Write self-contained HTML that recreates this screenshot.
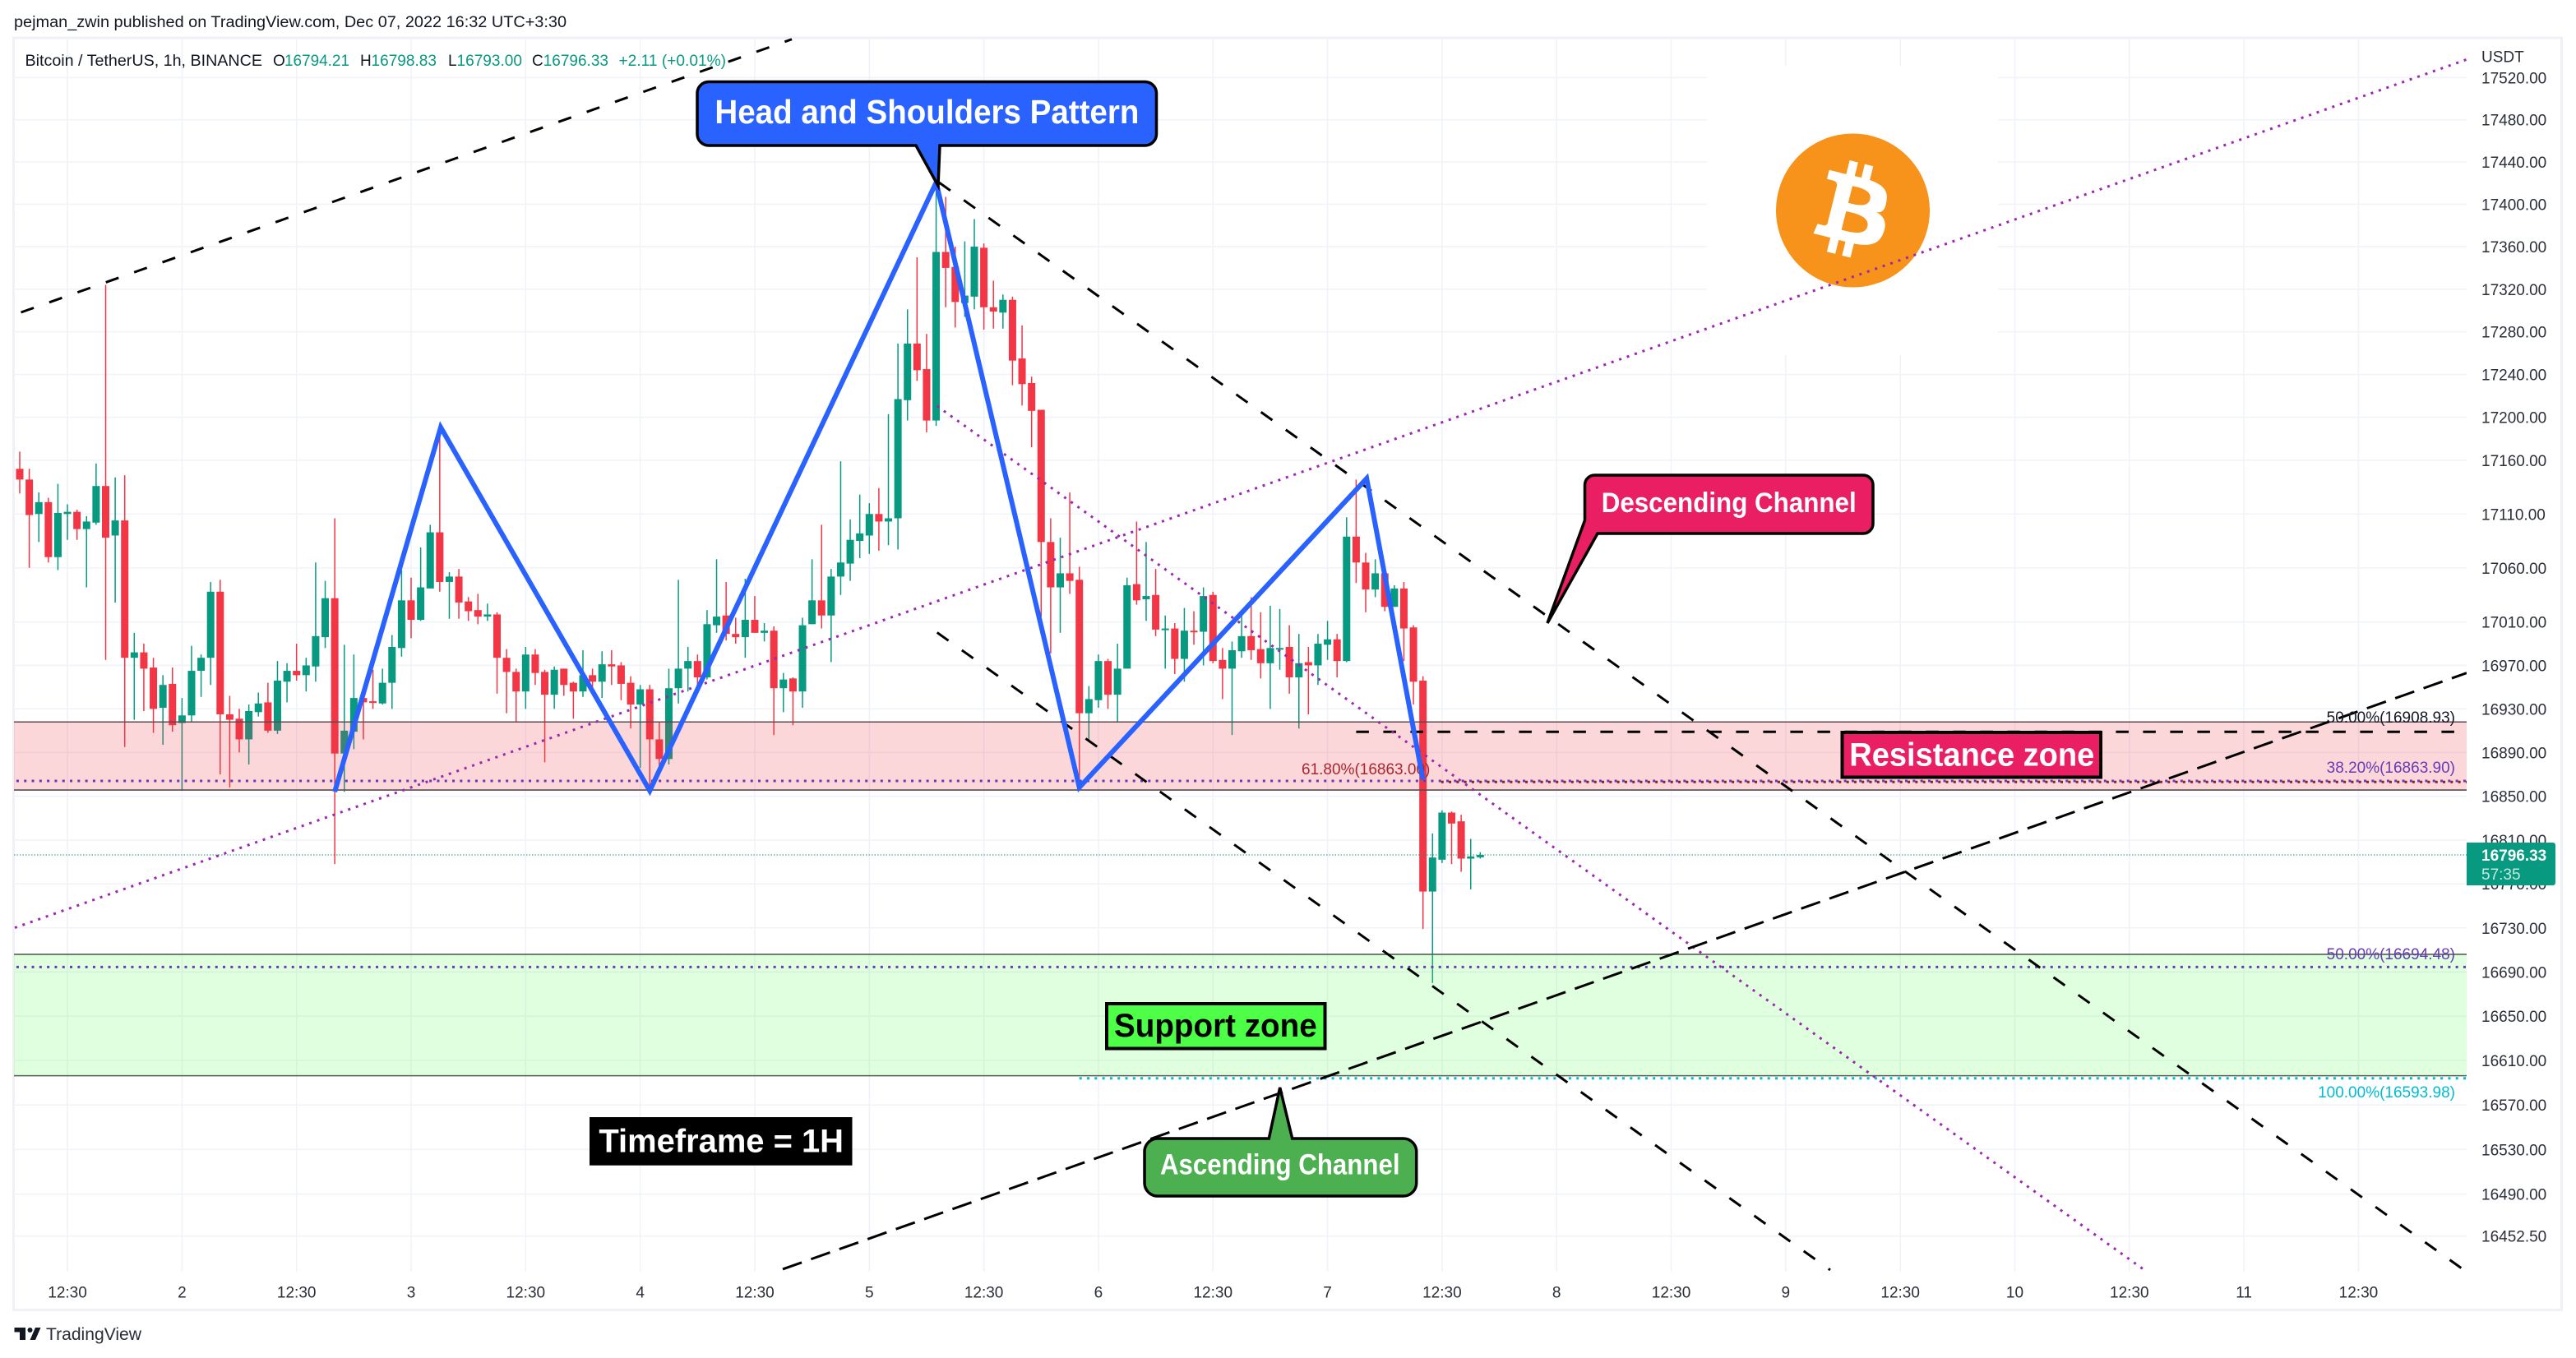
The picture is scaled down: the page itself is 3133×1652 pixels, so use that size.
<!DOCTYPE html>
<html lang="en">
<head>
<meta charset="utf-8">
<title>BTC/USDT 1H Head and Shoulders chart</title>
<style>
html,body{margin:0;padding:0;background:#fff;width:3133px;height:1652px;overflow:hidden}
svg{display:block}
text{font-family:"Liberation Sans",sans-serif}
.tick{font-size:19px;fill:#2a2e39}
.legend{font-size:19px;fill:#131722}
.val{font-size:19px;fill:#089981}
.fib{font-size:19px}
.call{font-weight:700}
</style>
</head>
<body>
<svg id="chart" xmlns="http://www.w3.org/2000/svg" width="3133" height="1652" viewBox="0 0 3133 1652">
<defs><clipPath id="plotClip"><rect x="17" y="46" width="2983" height="1501"/></clipPath></defs>
<rect x="0" y="0" width="3133" height="1652" fill="#ffffff"/>
<text class="legend" x="17" y="33" textLength="672" lengthAdjust="spacingAndGlyphs">pejman_zwin published on TradingView.com, Dec 07, 2022 16:32 UTC+3:30</text>
<rect x="16.5" y="46" width="3099" height="1547.5" fill="none" stroke="#eff1f6" stroke-width="3"/>

<g id="gridLayer"></g>
<rect x="2076" y="80" width="354" height="352" fill="#ffffff"/>
<g>
<circle cx="2253.5" cy="256" r="93.5" fill="#f7931a"/>
<path transform="translate(2160,162.5) scale(2.92)" fill="#ffffff" d="M46.11,27.441c0.637-4.258-2.605-6.547-7.038-8.074l1.438-5.768l-3.511-0.875l-1.4,5.616c-0.923-0.23-1.871-0.447-2.813-0.662l1.41-5.653l-3.509-0.875l-1.439,5.766c-0.764-0.174-1.514-0.346-2.242-0.527l0.004-0.018l-4.842-1.209l-0.934,3.75c0,0,2.605,0.597,2.55,0.634c1.422,0.355,1.679,1.296,1.636,2.042l-1.638,6.571c0.098,0.025,0.225,0.061,0.365,0.117c-0.117-0.029-0.242-0.061-0.371-0.092l-2.296,9.205c-0.174,0.432-0.615,1.08-1.609,0.834c0.035,0.051-2.552-0.637-2.552-0.637l-1.743,4.019l4.569,1.139c0.85,0.213,1.683,0.436,2.503,0.646l-1.453,5.834l3.507,0.875l1.439-5.772c0.958,0.26,1.888,0.5,2.798,0.726l-1.434,5.745l3.511,0.875l1.453-5.823c5.987,1.133,10.489,0.676,12.384-4.739c1.527-4.36-0.076-6.875-3.226-8.515C44.01,33.383,45.69,31.93,46.11,27.441L46.11,27.441z M38.087,38.69c-1.085,4.36-8.426,2.003-10.806,1.412l1.928-7.729C31.589,32.966,39.221,34.14,38.087,38.69L38.087,38.69z M39.173,27.378c-0.99,3.966-7.1,1.951-9.082,1.457l1.748-7.01C33.821,22.319,40.205,23.24,39.173,27.378L39.173,27.378z"/>
</g>

<g clip-path="url(#plotClip)">
<g id="candleLayer"></g>
<g id="zoneLayer"></g>
<g id="lineLayer"></g>
</g>

<text class="fib" x="1583" y="942" fill="#a8262f">61.80%(16863.00)</text>
<text class="fib" x="2986" y="879" text-anchor="end" fill="#131722">50.00%(16908.93)</text>
<text class="fib" x="2986" y="940" text-anchor="end" fill="#673ab7">38.20%(16863.90)</text>
<text class="fib" x="2986" y="1167" text-anchor="end" fill="#673ab7">50.00%(16694.48)</text>
<text class="fib" x="2986" y="1335" text-anchor="end" fill="#00bcd4">100.00%(16593.98)</text>

<g clip-path="url(#plotClip)"><g id="patternLayer"></g></g>

<g>
<text class="legend" x="30.5" y="80" textLength="288.5" lengthAdjust="spacingAndGlyphs">Bitcoin / TetherUS, 1h, BINANCE</text>
<text class="legend" x="332" y="80">O</text>
<text class="val" x="346" y="80" textLength="79" lengthAdjust="spacingAndGlyphs">16794.21</text>
<text class="legend" x="438" y="80">H</text>
<text class="val" x="451.5" y="80" textLength="79.5" lengthAdjust="spacingAndGlyphs">16798.83</text>
<text class="legend" x="545" y="80">L</text>
<text class="val" x="555.5" y="80" textLength="79.5" lengthAdjust="spacingAndGlyphs">16793.00</text>
<text class="legend" x="647" y="80">C</text>
<text class="val" x="660.7" y="80" textLength="79.3" lengthAdjust="spacingAndGlyphs">16796.33</text>
<text class="val" x="752.5" y="80" textLength="130.5" lengthAdjust="spacingAndGlyphs">+2.11 (+0.01%)</text>
</g>

<g>
<path d="M862,99.5 H1392.5 a14,14 0 0 1 14,14 V163 a14,14 0 0 1 -14,14 H1143 L1141,226 L1114,177 H862 a14,14 0 0 1 -14,-14 V113.5 a14,14 0 0 1 14,-14 Z" fill="#2962ff" stroke="#000" stroke-width="3.5" stroke-linejoin="miter"/>
<text class="call" x="869.4" y="150" font-size="41" fill="#fff" textLength="516" lengthAdjust="spacingAndGlyphs">Head and Shoulders Pattern</text>
</g>
<g>
<path d="M1939.5,578 H2266 a12,12 0 0 1 12,12 V637 a12,12 0 0 1 -12,12 H1943 L1882,758 L1927.5,633 V590 a12,12 0 0 1 12,-12 Z" fill="#e91e63" stroke="#000" stroke-width="3.5"/>
<text class="call" x="1947.7" y="623" font-size="34" fill="#fff" textLength="310" lengthAdjust="spacingAndGlyphs">Descending Channel</text>
</g>
<g>
<path d="M1408,1385 H1543.3 L1556.7,1323 L1571.7,1385 H1706.7 a16,16 0 0 1 16,16 V1439 a16,16 0 0 1 -16,16 H1408 a16,16 0 0 1 -16,-16 V1401 a16,16 0 0 1 16,-16 Z" fill="#4caf50" stroke="#000" stroke-width="3.5"/>
<text class="call" x="1411" y="1428.3" font-size="35" fill="#fff" textLength="291.5" lengthAdjust="spacingAndGlyphs">Ascending Channel</text>
</g>
<g>
<rect x="2240.5" y="891" width="314.5" height="54.5" fill="#e91e63" stroke="#000" stroke-width="4"/>
<text class="call" x="2249.3" y="931.7" font-size="40" fill="#fff" textLength="298" lengthAdjust="spacingAndGlyphs">Resistance zone</text>
</g>
<g>
<rect x="1346" y="1221" width="265.5" height="54.5" fill="#4dff47" stroke="#000" stroke-width="4"/>
<text class="call" x="1355" y="1261" font-size="40" fill="#000" textLength="246.7" lengthAdjust="spacingAndGlyphs">Support zone</text>
</g>
<g>
<rect x="717" y="1359" width="319.5" height="58.7" fill="#000"/>
<text class="call" x="728.4" y="1401.7" font-size="40" fill="#fff" textLength="297.6" lengthAdjust="spacingAndGlyphs">Timeframe = 1H</text>
</g>

<g id="axisLayer"></g>
<text class="tick" x="3018" y="75.5" fill="#131722">USDT</text>

<g id="tagLayer"></g>

<g>
<path fill="#131722" d="M17.5,1615 H31 V1630 H24 V1620.5 H17.5 Z M49.5,1615 L43,1630 H36.5 L43,1615 Z"/>
<circle cx="36.5" cy="1618" r="3" fill="#131722"/>
<text x="56" y="1630" font-size="21" fill="#2a2e39" textLength="116" lengthAdjust="spacingAndGlyphs">TradingView</text>
</g>
</svg>

<script>
const opens = [17152,17142,17110,17121,17070,17110,17112,17096,17102,17136,
17090,17104,16977,16982,16968,16931,16953,16917,16924,16965,
16977,17038,16925,16921,16902,16927,16936,16910,16955,16965,
16961,16969,16996,17032,16889,16909,16940,16937,16935,16954,
16986,17030,17012,17041,17093,17047,17052,17029,17021,17015,
17017,16977,16964,16946,16980,16964,16943,16967,16954,16946,
16961,16955,16971,16970,16954,16934,16948,16902,16884,16949,
16967,16974,16959,17007,17016,16999,16996,17012,17000,17002,
16949,16958,16946,17008,17030,17016,17052,17064,17085,17090,
17110,17103,17106,17216,17269,17245,17197,17355,17341,17307,
17313,17359,17303,17298,17310,17255,17232,17207,17084,17042,
17055,17049,16926,16938,16974,16943,16967,17045,17031,17035,
17003,17004,16976,17002,17001,17035,16975,16967,16983,16997,
16985,16972,16985,16987,16959,16973,16970,16989,16994,16974,
17089,17065,17040,17055,17024,17041,17005,16956,16763,16792,
16835,16827,16793,16794.21];
const highs = [17168,17152,17130,17125,17138,17119,17114,17108,17157,17324,
17144,17146,17000,16990,16977,16961,16968,16940,16988,16980,
17047,17049,16942,16930,16934,16945,16954,16974,16972,16990,
16977,17065,17048,17106,16989,16980,16942,16966,16967,16998,
17058,17051,17079,17100,17185,17056,17059,17033,17036,17027,
17019,16985,16967,16987,16985,16966,16969,16967,16955,16984,
16967,16983,16984,16973,16960,16952,16952,16918,16967,17049,
16987,16980,17021,17068,17047,17014,17050,17034,17009,17006,
16963,16959,17014,17068,17100,17059,17159,17105,17128,17120,
17134,17203,17269,17301,17350,17278,17417,17407,17360,17365,
17386,17363,17328,17315,17313,17286,17238,17207,17106,17088,
17130,17061,16951,16980,16976,16990,17051,17103,17084,17059,
17016,17009,17023,17020,17042,17038,16986,16992,17016,17033,
17019,17025,17022,17007,16999,16987,16999,17011,16999,17107,
17142,17074,17068,17055,17044,17047,17007,16960,16816,16837,
16836,16833,16811,16798.83];
const lows = [17129,17060,17084,17065,17058,17086,17086,17042,17100,16975,
17028,16895,16920,16928,16908,16897,16909,16855,16918,16941,
16952,16870,16858,16890,16879,16923,16908,16907,16936,16956,
16946,16955,16986,16788,16854,16893,16902,16930,16934,16930,
16978,16995,17011,17041,17038,17013,17013,17011,17008,17011,
16944,16926,16918,16930,16952,16881,16930,16942,16921,16941,
16950,16940,16952,16938,16912,16876,16856,16876,16879,16935,
16946,16952,16957,17000,16993,16990,16977,17000,16992,16906,
16927,16915,16931,17008,17004,16973,17035,17048,17069,17073,
17076,17081,17077,17197,17234,17186,17192,17303,17284,17294,
17301,17282,17283,17283,17230,17211,17172,17015,16981,17000,
17036,16858,16900,16931,16930,16918,16967,17026,17011,16997,
16967,16962,16955,16989,16970,16972,16939,16906,16977,16975,
16958,16930,16966,16944,16912,16925,16952,16975,16959,16973,
17046,17019,17033,17020,17024,16974,16934,16729,16680,16789,
16788,16781,16765,16793];
const closes = [17142,17109,17121,17070,17111,17112,17096,17103,17136,17088,
17104,16977,16982,16967,16930,16952,16915,16924,16965,16977,
17038,16925,16920,16902,16928,16935,16910,16956,16965,16961,
16970,16997,17032,16889,16910,16940,16936,16936,16954,16987,
17030,17012,17042,17093,17047,17052,17028,17020,17015,17017,
16977,16964,16946,16980,16963,16943,16966,16952,16946,16961,
16955,16971,16969,16953,16934,16948,16902,16884,16949,16967,
16974,16959,17008,17015,16999,16996,17012,17000,17002,16949,
16957,16946,17007,17030,17016,17052,17065,17086,17092,17110,
17103,17106,17217,17269,17244,17197,17355,17340,17308,17314,
17360,17303,17299,17310,17253,17231,17206,17084,17042,17055,
17048,16926,16939,16974,16943,16967,17044,17030,17034,17003,
17004,16976,17002,17001,17034,16974,16967,16984,16997,16984,
16972,16986,16986,16959,16972,16970,16990,16994,16974,17089,
17065,17040,17055,17024,17041,17004,16955,16763,16794,16835,
16825,16793,16795,16796.33];

const priceTicks = [17520,17480,17440,17400,17360,17320,17280,17240,17200,17160,17110,17060,17010,16970,16930,16890,16850,16810,16770,16730,16690,16650,16610,16570,16530,16490,16452.5];
const timeLabels = ['12:30','2','12:30','3','12:30','4','12:30','5','12:30','6','12:30','7','12:30','8','12:30','9','12:30','10','12:30','11','12:30'];
const lastPrice = 16796.33;
const countdown = '57:35';

const resistanceZone = [16918, 16855.6];
const supportZone = [16706, 16596.3];

const fib50UpperPrice = 16908.93;
const fib382Price = 16863.90;
const fib618Price = 16863.00;
const fib50LowerPrice = 16694.48;
const fib100Price = 16593.98;

const patternBars = [33, 44.1, 66, 96, 111, 141.1, 147];
const patternPrices = [16854, 17190.6, 16855, 17420.6, 16858, 17143, 16865];

const ascendingUpperBars = [0.13, 80.88];
const ascendingUpperPrices = [17298.2, 17556.5];
const ascendingLowerBars = [79.93, 256.33];
const ascendingLowerPrices = [16423, 16963];
const descendingUpperBars = [96.3, 256.16];
const descendingUpperPrices = [17420.6, 16421.6];
const descendingLowerBars = [96.1, 189.66];
const descendingLowerPrices = [17000.3, 16422.3];
const midAscendingBars = [-0.52, 256.33];
const midAscendingPrices = [16730.1, 17537.2];
const midDescendingBars = [96.1, 222.57];
const midDescendingPrices = [17210.5, 16422.3];

const SVGNS = 'http://www.w3.org/2000/svg';
const PLOT_LEFT = 17, PLOT_RIGHT = 3000, PLOT_TOP = 46, PLOT_BOTTOM = 1547;
const FIRST_BAR_X = 24, BAR_STEP = 11.61;
function xScale(i){ return FIRST_BAR_X + BAR_STEP * i; }
function yScale(p){ return 94.4 + 22418 * Math.log(17520 / p); }

function shape(parent, tag, props){
  const el = document.createElementNS(SVGNS, tag);
  for (const k in props) el.setAttribute(k, props[k]);
  parent.appendChild(el);
  return el;
}

const gridLayer = document.getElementById('gridLayer');
const axisLayer = document.getElementById('axisLayer');
const candleLayer = document.getElementById('candleLayer');
const zoneLayer = document.getElementById('zoneLayer');
const lineLayer = document.getElementById('lineLayer');
const patternLayer = document.getElementById('patternLayer');
const tagLayer = document.getElementById('tagLayer');

priceTicks.forEach(function(p){
  const gy = yScale(p);
  const g = shape(gridLayer, 'line', {x1:PLOT_LEFT, x2:PLOT_RIGHT, y1:gy, y2:gy, stroke:'#f0f3fa', 'stroke-width':1.6});
  
  
  const t = shape(axisLayer, 'text', {x:3018, y:gy + 7, 'class':'tick'});
  t.textContent = p.toFixed(2);
  
  
});

timeLabels.forEach(function(label, k){
  const gx = xScale(5 + 12 * k);
  const g = shape(gridLayer, 'line', {x1:gx, x2:gx, y1:PLOT_TOP, y2:PLOT_BOTTOM, stroke:'#f0f3fa', 'stroke-width':1.6});
  
  
  const t = shape(axisLayer, 'text', {x:gx, y:1578.5, 'text-anchor':'middle', 'class':'tick'});
  t.textContent = label;
  
  
});

const UP = '#089981', DOWN = '#f23645';
opens.forEach(function(o, i){
  const c = closes[i];
  const color = c >= o ? UP : DOWN;
  const cx = xScale(i);
  const wick = shape(candleLayer, 'line', {x1:cx, x2:cx, y1:yScale(highs[i]), y2:yScale(lows[i]), stroke:color, 'stroke-width':1.5});
  
  
  const top = yScale(Math.max(o, c));
  const bottom = yScale(Math.min(o, c));
  const body = shape(candleLayer, 'rect', {x:cx - 4.5, y:top, width:9, height:Math.max(bottom - top, 2), fill:color});
  
  
});

const resTop = yScale(resistanceZone[0]), resBottom = yScale(resistanceZone[1]);
const resRect = shape(zoneLayer, 'rect', {x:PLOT_LEFT, y:resTop, width:PLOT_RIGHT - PLOT_LEFT, height:resBottom - resTop, fill:'rgba(242,54,69,0.2)'});


const resEdgeTop = shape(zoneLayer, 'line', {x1:PLOT_LEFT, x2:PLOT_RIGHT, y1:resTop, y2:resTop, stroke:'#5a4a4d', 'stroke-width':1.6});


const resEdgeBottom = shape(zoneLayer, 'line', {x1:PLOT_LEFT, x2:PLOT_RIGHT, y1:resBottom, y2:resBottom, stroke:'#5a4a4d', 'stroke-width':1.6});


const supTop = yScale(supportZone[0]), supBottom = yScale(supportZone[1]);
const supRect = shape(zoneLayer, 'rect', {x:PLOT_LEFT, y:supTop, width:PLOT_RIGHT - PLOT_LEFT, height:supBottom - supTop, fill:'rgba(76,255,71,0.18)'});


const supEdgeTop = shape(zoneLayer, 'line', {x1:PLOT_LEFT, x2:PLOT_RIGHT, y1:supTop, y2:supTop, stroke:'#50604f', 'stroke-width':1.6});


const supEdgeBottom = shape(zoneLayer, 'line', {x1:PLOT_LEFT, x2:PLOT_RIGHT, y1:supBottom, y2:supBottom, stroke:'#50604f', 'stroke-width':1.6});



const lastPriceLine = shape(lineLayer, 'line', {x1:PLOT_LEFT, x2:PLOT_RIGHT, y1:yScale(lastPrice), y2:yScale(lastPrice), stroke:UP, 'stroke-width':1, 'stroke-dasharray':'1.5 2'});



function trend(bars, prices, color, width, dash){
  return shape(lineLayer, 'line', {x1:xScale(bars[0]), y1:yScale(prices[0]), x2:xScale(bars[1]), y2:yScale(prices[1]), stroke:color, 'stroke-width':width, 'stroke-dasharray':dash});
}
function level(startBar, price, color, width, dash){
  return trend([startBar, 258], [price, price], color, width, dash);
}

const fibLine382 = level(-0.35, fib382Price, '#673ab7', 3, '3 6.3');


const fibLine618 = level(148.9, fib618Price, '#8b1f28', 3, '3 6.3');


const fibLine50Lower = level(-0.35, fib50LowerPrice, '#673ab7', 3, '3 6.3');


const fibLine100 = level(111, fib100Price, '#00bcd4', 3, '3 6.3');


const fibLine50Upper = trend([140, 256.33], [fib50UpperPrice, fib50UpperPrice], '#000000', 3, '15.5 17.5');



const midAscLine = trend(midAscendingBars, midAscendingPrices, '#9c27b0', 3, '3 7');


const midDescLine = trend(midDescendingBars, midDescendingPrices, '#9c27b0', 3, '3 7');



const ascUpperLine = trend(ascendingUpperBars, ascendingUpperPrices, '#000000', 3, '16.5 20');


const ascLowerLine = trend(ascendingLowerBars, ascendingLowerPrices, '#000000', 3, '24.5 12');


const descUpperLine = trend(descendingUpperBars, descendingUpperPrices, '#000000', 3, '17 20');


const descLowerLine = trend(descendingLowerBars, descendingLowerPrices, '#000000', 3, '17 20');



const patternPoints = patternBars.map(function(b, i){ return xScale(b) + ',' + yScale(patternPrices[i]); }).join(' ');
const patternLine = shape(patternLayer, 'polyline', {points:patternPoints, fill:'none', stroke:'#2962ff', 'stroke-width':6, 'stroke-linejoin':'miter', 'stroke-miterlimit':10});



const tagY = yScale(lastPrice);
const tagBox = shape(tagLayer, 'path', {d:'M3000,' + (tagY - 15) + ' H3105 a3,3 0 0 1 3,3 V' + (tagY + 34) + ' a3,3 0 0 1 -3,3 H3000 Z', fill:UP});


const tagPrice = shape(tagLayer, 'text', {x:3018, y:tagY + 7, fill:'#ffffff', 'font-size':19, 'font-weight':700});
tagPrice.textContent = lastPrice.toFixed(2);


const tagTimer = shape(tagLayer, 'text', {x:3018, y:tagY + 30, fill:'#c4e8df', 'font-size':19});
tagTimer.textContent = countdown;


</script>
</body>
</html>
